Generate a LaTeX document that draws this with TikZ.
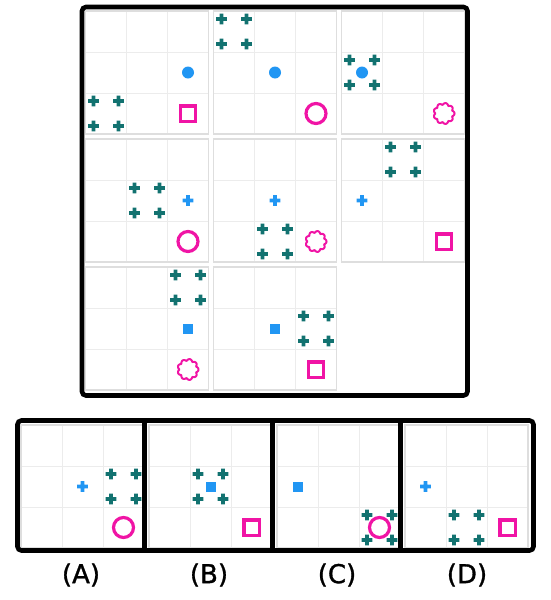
\documentclass[tikz,border=0pt]{standalone}
\usepackage{fontspec}
\newfontfamily\labfont[FakeBold=1.2]{DejaVu Sans}
\usetikzlibrary{calc}

\definecolor{tealc}{RGB}{18,114,112}
\definecolor{bluec}{RGB}{33,150,243}
\definecolor{pinkc}{RGB}{240,20,165}
\definecolor{gridc}{RGB}{236,236,236}
\definecolor{edgec}{RGB}{222,222,222}

\tikzset{
	gridthin/.style={draw=gridc,line width=1pt},
	panelbox/.style={draw=edgec,line width=1.6pt},
	blackframe/.style={draw=black,line width=4.6pt,rounded corners=4pt},
	pinkline/.style={draw=pinkc,line width=3.2pt},
	lab/.style={font=\labfont\fontsize{26}{30}\selectfont,inner sep=0pt}
}

% 格子中心
\newcommand{\cellpos}[2]{\pgfmathsetmacro{\px}{20.5+41*(#1-1)}\pgfmathsetmacro{\py}{20.5+41*(#2-1)}}
% 十字
\newcommand{\pluss}[3]{\fill[#3,shift={(#1,#2)}] (-5.3,-1.9) rectangle (5.3,1.9) (-1.9,-5.3) rectangle (1.9,5.3);}
\newcommand{\tealfour}[2]{\cellpos{#1}{#2}
	\begin{scope}[shift={(\px,\py)}]
		\pluss{-12.5}{-12.5}{tealc}\pluss{12.5}{-12.5}{tealc}
		\pluss{-12.5}{12.5}{tealc}\pluss{12.5}{12.5}{tealc}
	\end{scope}}
\newcommand{\bluedot}[2]{\cellpos{#1}{#2}\fill[bluec] (\px,\py) circle (6);}
\newcommand{\bluesq}[2]{\cellpos{#1}{#2}\fill[bluec,shift={(\px,\py)}] (-5,-5) rectangle (5,5);}
\newcommand{\bluecross}[2]{\cellpos{#1}{#2}\pluss{\px}{\py}{bluec}}
\newcommand{\pinksq}[2]{\cellpos{#1}{#2}\draw[pinkline,shift={(\px,\py)}] (-7.6,-7.6) rectangle (7.6,7.6);}
\newcommand{\pinkring}[2]{\cellpos{#1}{#2}\draw[pinkline] (\px,\py) circle (10);}
\newcommand{\pinkflower}[2]{\cellpos{#1}{#2}
	\draw[pinkc,line width=2pt,line join=round,shift={(\px,\py)}] plot[domain=0:360,samples=181]
		({(8.6+1.9*abs(cos(4.5*\x)))*cos(\x)},{(8.6+1.9*abs(cos(4.5*\x)))*sin(\x)}) -- cycle;}
% 一个小方格图
\newcommand{\drawpanel}[2]{
	\foreach \k in {41,82} {
		\draw[gridthin] (#1+\k,#2)--(#1+\k,#2+123);
		\draw[gridthin] (#1,#2+\k)--(#1+123,#2+\k);
	}
	\draw[panelbox] (#1,#2) rectangle (#1+123,#2+123);}

\begin{document}
\begin{tikzpicture}[x=1pt,y=-1pt]
		\useasboundingbox (0,0) rectangle (550,600);
		
		% 上方八个图
		\foreach \xa in {85.5,213.5,341.5} {
			\foreach \ya in {11,139} {\drawpanel{\xa}{\ya}}
		}
		\drawpanel{85.5}{267}
		\drawpanel{213.5}{267}
		
		\begin{scope}[shift={(85.5,11)}]
			\tealfour{1}{3} \bluedot{3}{2} \pinksq{3}{3}
		\end{scope}
		\begin{scope}[shift={(213.5,11)}]
			\tealfour{1}{1} \bluedot{2}{2} \pinkring{3}{3}
		\end{scope}
		\begin{scope}[shift={(341.5,11)}]
			\tealfour{1}{2} \bluedot{1}{2} \pinkflower{3}{3}
		\end{scope}
		\begin{scope}[shift={(85.5,139)}]
			\tealfour{2}{2} \bluecross{3}{2} \pinkring{3}{3}
		\end{scope}
		\begin{scope}[shift={(213.5,139)}]
			\tealfour{2}{3} \bluecross{2}{2} \pinkflower{3}{3}
		\end{scope}
		\begin{scope}[shift={(341.5,139)}]
			\tealfour{2}{1} \bluecross{1}{2} \pinksq{3}{3}
		\end{scope}
		\begin{scope}[shift={(85.5,267)}]
			\tealfour{3}{1} \bluesq{3}{2} \pinkflower{3}{3}
		\end{scope}
		\begin{scope}[shift={(213.5,267)}]
			\tealfour{3}{2} \bluesq{2}{2} \pinksq{3}{3}
		\end{scope}
		
		\draw[blackframe] (82,7) rectangle (467.5,395.5);
		
		% 选项
		\foreach \xa in {21,149,277,405} {\drawpanel{\xa}{425}}
		
		\begin{scope}[shift={(21,425)}]
			\bluecross{2}{2} \tealfour{3}{2} \pinkring{3}{3}
		\end{scope}
		\begin{scope}[shift={(149,425)}]
			\tealfour{2}{2} \bluesq{2}{2} \pinksq{3}{3}
		\end{scope}
		\begin{scope}[shift={(277,425)}]
			\bluesq{1}{2} \tealfour{3}{3} \pinkring{3}{3}
		\end{scope}
		\begin{scope}[shift={(405,425)}]
			\bluecross{1}{2} \tealfour{2}{3} \pinksq{3}{3}
		\end{scope}
		
		\draw[blackframe] (17.5,420.5) rectangle (533.5,550.5);
		\foreach \xa in {144.7,272.5,400.5} {
			\draw[black,line width=4.6pt] (\xa,420.5)--(\xa,550.5);
		}
		
		\node[lab] (optA) at (81,575) {(A)};
		\node[lab] (optB) at (209,575) {(B)};
		\node[lab] (optC) at (337,575) {(C)};
		\node[lab] (optD) at (467,575) {(D)};
		
	\end{tikzpicture}
\end{document}
